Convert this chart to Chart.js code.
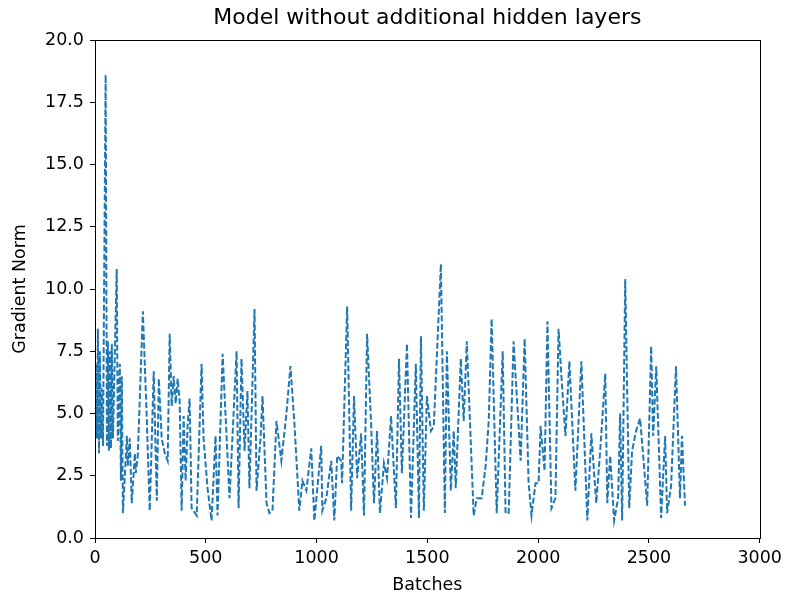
<!DOCTYPE html>
<html>
<head>
<meta charset="utf-8">
<script src="https://cdn.jsdelivr.net/npm/chart.js@4/dist/chart.umd.min.js"></script>
<style>
  body { margin: 0; background: #fff; }
  #wrap { width: 787px; height: 597px; }
</style>
</head>
<body>
<div id="wrap"><canvas id="gradChart" width="787" height="597"></canvas></div>
<script>
// batch index of each recorded point
const batches = [
    0, 4, 9, 13, 18, 22, 27, 31, 36, 48, 54, 58, 63, 67, 72, 76, 81, 98, 103, 112,
    117, 121, 126, 144, 148, 157, 166, 180, 184, 193, 216, 234, 247, 265, 279, 288, 301, 315, 328, 337,
    346, 355, 364, 373, 382, 391, 400, 409, 418, 427, 436, 459, 481,
    490, 508, 526, 544, 553, 576, 607, 639,
    648, 661, 675, 688, 697, 720, 729, 747, 756, 774, 787, 801, 819, 841, 864, 882, 900, 922, 936, 954,
    976, 990, 1021, 1026, 1044, 1066, 1080, 1093, 1111, 1115, 1138, 1156, 1169, 1183, 1201, 1214, 1228, 1246, 1259, 1273,
    1286, 1304, 1318, 1336, 1358, 1372, 1385, 1408, 1426, 1448, 1462, 1471, 1484, 1498, 1516, 1529, 1561, 1579, 1588, 1606,
    1619, 1628, 1651, 1664, 1678, 1709, 1723, 1745, 1763, 1777, 1790, 1813, 1840, 1853, 1867, 1889, 1921, 1939, 1957, 1970,
    1988, 2002, 2011, 2029, 2042, 2060, 2078, 2092, 2105, 2123, 2141, 2168, 2195, 2222, 2240, 2262, 2280, 2303, 2312, 2325,
    2343, 2361, 2370, 2379, 2393, 2411, 2424, 2442, 2460, 2474, 2492, 2510, 2519, 2533, 2555, 2573, 2582, 2600, 2622, 2640,
    2649, 2663
];

// gradient norm at each batch
const gradNorm = [
    4.3, 7.0, 4.0, 8.4, 3.4, 7.5, 4.0, 6.0, 3.7, 18.6, 3.7, 7.9, 3.5, 7.5, 3.6, 7.8, 4.0, 10.8, 3.9, 7.0,
    2.3, 6.5, 1.0, 4.1, 2.9, 4.0, 1.4, 3.4, 2.6, 3.3, 9.1, 4.7, 1.1, 6.7, 1.5, 6.4, 4.0, 3.4, 3.1, 8.2,
    5.3, 6.5, 5.4, 6.4, 5.5, 1.1, 4.9, 2.3, 4.5, 5.6, 1.2, 0.9, 7.0,
    4.0, 2.0, 0.7, 4.1, 0.9, 7.4, 1.6, 7.5,
    1.2, 7.2, 3.5, 5.9, 2.0, 9.2, 1.9, 4.0, 5.7, 1.4, 1.0, 1.1, 4.7, 3.1, 5.0, 6.9, 4.6, 1.1, 2.3, 1.9,
    3.6, 0.7, 3.7, 1.1, 1.6, 3.1, 0.7, 3.3, 3.1, 2.2, 9.3, 1.1, 5.7, 2.4, 4.2, 0.9, 8.2, 4.6, 1.4, 4.3,
    1.0, 3.0, 2.4, 4.9, 1.2, 7.2, 2.6, 7.8, 0.8, 7.0, 0.8, 8.1, 1.1, 5.7, 4.3, 4.5, 11.0, 1.0, 7.5, 1.9,
    4.3, 2.0, 7.2, 4.7, 7.9, 0.9, 1.6, 1.6, 2.9, 4.7, 8.8, 1.0, 7.5, 1.0, 1.0, 7.9, 3.1, 8.0, 2.2, 0.9,
    2.2, 2.2, 4.5, 2.7, 8.7, 1.2, 1.6, 8.4, 6.5, 4.1, 7.1, 1.9, 7.1, 0.7, 4.2, 1.4, 3.5, 6.6, 1.4, 3.3,
    0.7, 1.6, 5.0, 0.7, 10.4, 1.2, 3.5, 4.3, 4.8, 3.3, 1.3, 7.7, 4.1, 6.9, 0.8, 4.1, 1.0, 2.1, 6.9, 1.6,
    4.1, 1.3
];

const chartTitle = 'Model without additional hidden layers';
const xLabel = 'Batches';
const yLabel = 'Gradient Norm';
const xTicks = [0, 500, 1000, 1500, 2000, 2500, 3000];
const yTicks = [0, 2.5, 5, 7.5, 10, 12.5, 15, 17.5, 20];

const points = batches.map((b, i) => ({ x: b, y: gradNorm[i] }));

// top and right spines, plus the title centred over the plot area (matplotlib style)
const frameBox = {
    id: 'frameBox',
    afterDraw(chart) {
        const a = chart.chartArea;
        const c = chart.ctx;
        c.save();
        c.strokeStyle = '#000';
        c.lineWidth = 1;
        c.strokeRect(Math.round(a.left) + 0.5, Math.round(a.top) + 0.5,
            Math.round(a.right - a.left), Math.round(a.bottom - a.top));
        c.fillStyle = '#000';
        c.font = '22px "DejaVu Sans"';
        c.textAlign = 'center';
        c.textBaseline = 'middle';
        c.fillText(chartTitle, (a.left + a.right) / 2, 18);
        c.restore();
    }
};

const tickFont = { family: 'DejaVu Sans', size: 17.5 };
const labelFont = { family: 'DejaVu Sans', size: 17.5 };

const chart = new Chart(document.getElementById('gradChart').getContext('2d'), {
    type: 'scatter',
    data: {
        datasets: [{
            data: points,
            showLine: true,
            borderColor: '#1f77b4',
            borderWidth: 2,
            borderDash: [6, 2.5],
            pointRadius: 0,
            fill: false,
            tension: 0
        }]
    },
    options: {
        responsive: false,
        animation: false,
        layout: { padding: { left: 0, right: 25, top: 40, bottom: 0 } },
        plugins: {
            legend: { display: false },
            tooltip: { enabled: false },
            title: { display: false }
        },
        scales: {
            x: {
                type: 'linear',
                min: 0,
                max: 3000,
                afterBuildTicks: s => { s.ticks = xTicks.map(v => ({ value: v })); },
                afterFit: s => { s.height = 59; },
                grid: { drawOnChartArea: false, tickLength: 5, color: '#000' },
                border: { color: '#000' },
                ticks: { color: '#000', font: tickFont, padding: 5, maxRotation: 0, callback: v => String(v) },
                title: {
                    display: true, text: xLabel, color: '#000',
                    font: labelFont,
                    padding: { top: 0, bottom: 1 }
                }
            },
            y: {
                type: 'linear',
                min: 0,
                max: 20,
                afterBuildTicks: s => { s.ticks = yTicks.map(v => ({ value: v })); },
                afterFit: s => { s.width = 95; },
                grid: { drawOnChartArea: false, tickLength: 5, color: '#000' },
                border: { color: '#000' },
                ticks: {
                    color: '#000', font: tickFont, padding: 6,
                    callback: v => Number(v).toFixed(1)
                },
                title: {
                    display: true, text: yLabel, color: '#000',
                    font: labelFont,
                    padding: { top: 10, bottom: 0 }
                }
            }
        }
    },
    plugins: [frameBox]
});
</script>
</body>
</html>
